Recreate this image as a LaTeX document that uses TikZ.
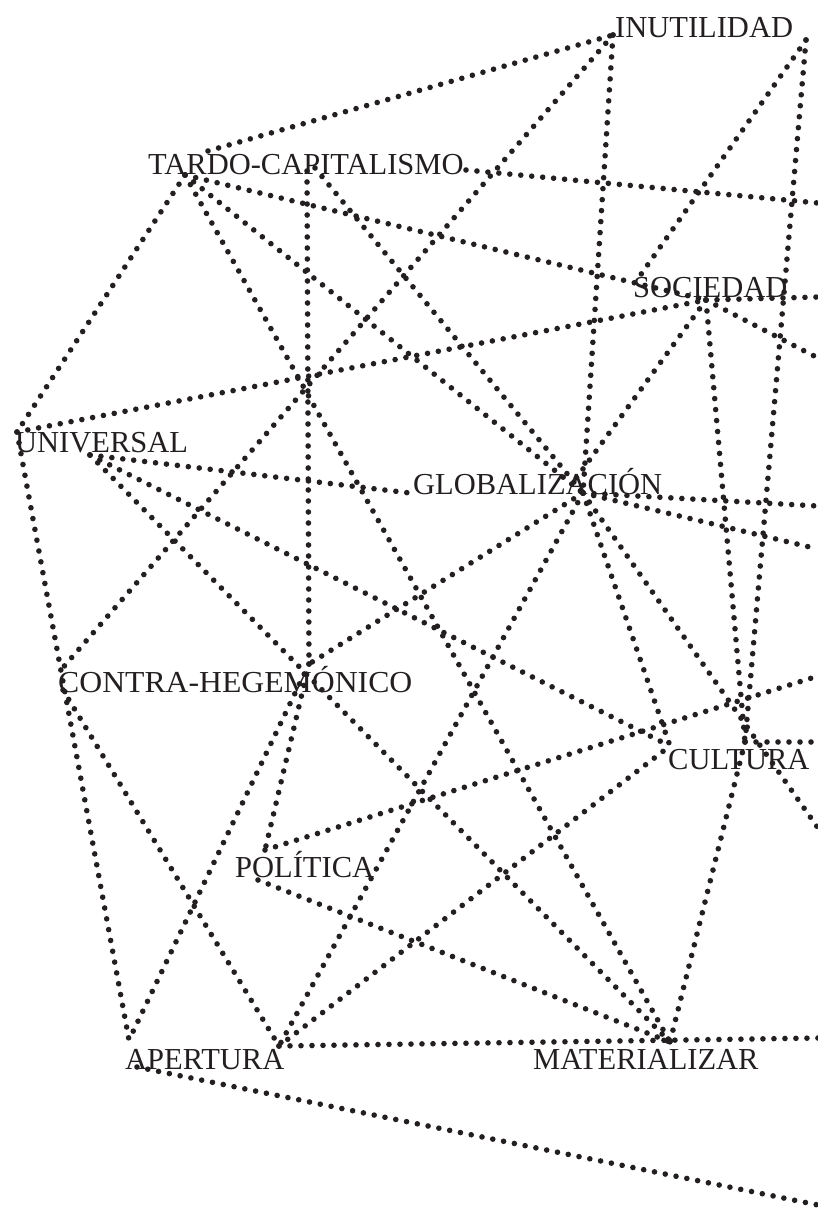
\documentclass[tikz,border=0pt]{standalone}
\usepackage{fontspec}
\setmainfont{Liberation Serif}
\definecolor{ink}{RGB}{35,31,32}
\tikzset{
  dotline/.style={draw=ink, line width=5.6pt, line cap=round, dash pattern=on 0pt off 11pt},
  word/.style={anchor=base west, inner sep=0pt, text=ink, font=\fontsize{30.5}{30.5}\selectfont}
}
\begin{document}
\begin{tikzpicture}[x=1pt,y=-1pt]
\useasboundingbox (0,0) rectangle (818,1208);
% vertices
\coordinate (A) at (613,35);
\coordinate (At) at (208,151);
\coordinate (B) at (806,40);
\coordinate (T) at (185,175);
\coordinate (T2) at (307,171);
\coordinate (T3) at (315,168);
\coordinate (T4) at (466,170);
\coordinate (U1) at (17,432);
\coordinate (U2) at (90,455);
\coordinate (GL) at (410,493);
\coordinate (G) at (583,493);
\coordinate (Gs) at (572,484);
\coordinate (SL) at (637,280);
\coordinate (S) at (706,300);
\coordinate (C2) at (745,742);
\coordinate (CL) at (670,746);
\coordinate (CHa) at (60,671);
\coordinate (CHb) at (63,690);
\coordinate (CH2) at (309,664);
\coordinate (P1) at (265,850);
\coordinate (P2) at (258,880);
\coordinate (AP1) at (129,1040);
\coordinate (AP2) at (279,1046);
\coordinate (AP3) at (137,1067);
\coordinate (M) at (670,1042);
% free ends at the right edge
\coordinate (E1) at (818,203);
\coordinate (E2) at (818,297);
\coordinate (E3) at (818,358);
\coordinate (E4) at (818,506);
\coordinate (E5) at (818,549);
\coordinate (E6) at (818,676);
\coordinate (E7) at (818,742);
\coordinate (E8) at (818,828);
\coordinate (E9) at (818,1038);
\coordinate (E10) at (818,1205);
% connectors
\draw[dotline] (At) -- (A);
\draw[dotline] (A) -- (CHa);
\draw[dotline] (A) -- (G);
\draw[dotline] (T) -- (U1);
\draw[dotline] (T) -- (M);
\draw[dotline] (T) -- (G);
\draw[dotline] (T) -- (S);
\draw[dotline] (T2) -- (CH2);
\draw[dotline] (T3) -- (G);
\draw[dotline] (T4) -- (E1);
\draw[dotline] (B) -- (SL);
\draw[dotline] (B) -- (C2);
\draw[dotline] (U1) -- (S);
\draw[dotline] (U1) -- (AP1);
\draw[dotline] (U2) -- (GL);
\draw[dotline] (U2) -- (CL);
\draw[dotline] (U2) -- (M);
\draw[dotline] (S) -- (E2);
\draw[dotline] (S) -- (E3);
\draw[dotline] (S) -- (C2);
\draw[dotline] (S) -- (Gs);
\draw[dotline] (G) -- (E4);
\draw[dotline] (G) -- (E5);
\draw[dotline] (G) -- (CH2);
\draw[dotline] (G) -- (AP2);
\draw[dotline] (G) -- (CL);
\draw[dotline] (G) -- (E8);
\draw[dotline] (P1) -- (E6);
\draw[dotline] (C2) -- (E7);
\draw[dotline] (C2) -- (M);
\draw[dotline] (CH2) -- (AP1);
\draw[dotline] (CH2) -- (P1);
\draw[dotline] (CHb) -- (AP2);
\draw[dotline] (P2) -- (M);
\draw[dotline] (AP2) -- (CL);
\draw[dotline] (AP2) -- (E9);
\draw[dotline] (AP3) -- (E10);
% words
\node[word] (winut) at (615,37) {INUTILIDAD};
\node[word] (wtardo) at (148,174) {TARDO-CAPITALISMO};
\node[word] (wsoc) at (633,297) {SOCIEDAD};
\node[word] (wuniv) at (15,452) {UNIVERSAL};
\node[word] (wglob) at (413,494) {GLOBALIZACIÓN};
\node[word] (wcontra) at (58,692) {\scalebox{1.04}[1]{CONTRA-HEGEMÓNICO}};
\node[word] (wcult) at (668,769) {CULTURA};
\node[word] (wpol) at (235,877) {POLÍTICA};
\node[word] (wap) at (125,1069) {APERTURA};
\node[word] (wmat) at (533,1069) {MATERIALIZAR};
\end{tikzpicture}
\end{document}
